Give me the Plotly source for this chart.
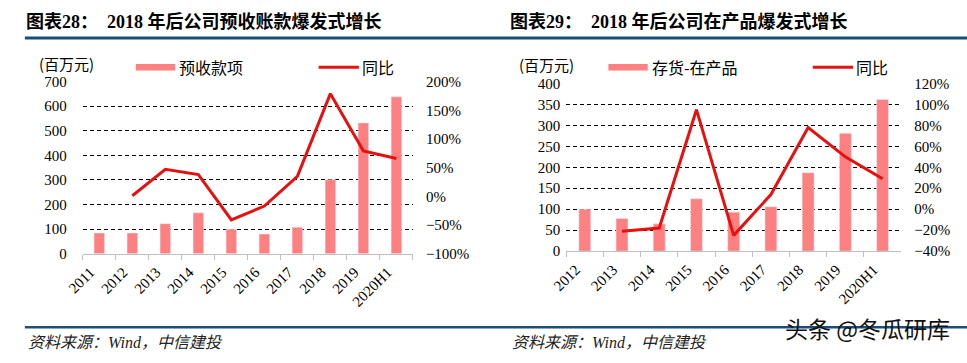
import plotly.graph_objects as go

# ---------------- data ----------------
years_a = ["2011", "2012", "2013", "2014", "2015", "2016", "2017", "2018", "2019", "2020H1"]
advance_receipts = [84, 84, 122, 166, 99, 80, 108, 301, 532, 638]          # 百万元
yoy_years_a = ["2012", "2013", "2014", "2015", "2016", "2017", "2018", "2019", "2020H1"]
advance_yoy = [1, 47, 38, -41, -17, 35, 179, 79, 66]                       # %

years_b = ["2012", "2013", "2014", "2015", "2016", "2017", "2018", "2019", "2020H1"]
wip_inventory = [100, 78, 65, 125, 93, 106, 187, 281, 362]                 # 百万元
yoy_years_b = ["2013", "2014", "2015", "2016", "2017", "2018", "2019", "2020H1"]
wip_yoy = [-21, -18, 95, -25, 14, 78, 50, 29]                              # %

title_a = "图表28：\u00a0\u00a02018 年后公司预收账款爆发式增长"
title_b = "图表29：\u00a0\u00a02018 年后公司在产品爆发式增长"
bar_name_a = "预收款项"
bar_name_b = "存货-在产品"
line_name = "同比"
unit_label = "(百万元)"
source_text = "资料来源：Wind，中信建投"
watermark = "头条 @冬瓜研库"

# ---------------- style ----------------
W, H = 967, 363
BAR = "#FF8080"
RED = "#E8100F"
NAVY = "#1B4E78"
AXIS_GRAY = "#BFBFBF"
SERIF = "Liberation Serif, Times New Roman, Noto Sans CJK SC"
CJK = "Noto Sans CJK SC, Noto Sans, sans-serif"


def X(px):
    return px / W


def Y(py):
    return 1 - py / H


fig = go.Figure()

fig.add_trace(go.Bar(x=years_a, y=advance_receipts, marker_color=BAR,
                     xaxis="x", yaxis="y", showlegend=False))
fig.add_trace(go.Scatter(x=yoy_years_a, y=advance_yoy, mode="lines",
                         line=dict(color=RED, width=3),
                         xaxis="x", yaxis="y2", showlegend=False))
fig.add_trace(go.Bar(x=years_b, y=wip_inventory, marker_color=BAR,
                     xaxis="x2", yaxis="y3", showlegend=False))
fig.add_trace(go.Scatter(x=yoy_years_b, y=wip_yoy, mode="lines",
                         line=dict(color=RED, width=3),
                         xaxis="x2", yaxis="y4", showlegend=False))

tickfont = dict(family=SERIF, size=15, color="black")
xtickfont = dict(family=SERIF, size=15, color="black")

xcommon = dict(type="category", showline=True, linecolor=AXIS_GRAY, linewidth=1,
               ticks="outside", tickson="boundaries", ticklen=5, tickcolor=AXIS_GRAY,
               tickangle=-45, tickfont=xtickfont, showgrid=False, zeroline=False,
               ticklabelshift=-9, ticklabelstandoff=3)
ygrid = dict(showgrid=True, gridcolor="black", gridwidth=1, griddash="4px,3px",
             zeroline=False, showline=False, ticks="", tickfont=tickfont)

fig.update_layout(
    width=W, height=H, autosize=False,
    margin=dict(l=0, r=0, t=0, b=0),
    paper_bgcolor="white", plot_bgcolor="white",
    bargap=0.68,
    xaxis=dict(domain=[X(67), X(403)], anchor="y",
               categoryorder="array", categoryarray=years_a, **xcommon),
    yaxis=dict(domain=[Y(257), Y(77)], anchor="x", range=[0, 700], dtick=100,
               ticklabelstandoff=15, **ygrid),
    yaxis2=dict(overlaying="y", anchor="x", side="right", range=[-100, 200], dtick=50,
                ticksuffix="%", showgrid=False, zeroline=False, ticks="",
                ticklabelstandoff=12, tickfont=tickfont),
    xaxis2=dict(domain=[X(559), X(900)], anchor="y3",
                categoryorder="array", categoryarray=years_b, **xcommon),
    yaxis3=dict(domain=[Y(254.3), Y(79)], anchor="x2", range=[0, 400], dtick=50,
                ticklabelstandoff=5, **ygrid),
    yaxis4=dict(overlaying="y3", anchor="x2", side="right", range=[-40, 120], dtick=20,
                ticksuffix="%", showgrid=False, zeroline=False, ticks="",
                ticklabelstandoff=12, tickfont=tickfont),
)

shapes = []
# header and footer rules
shapes.append(dict(type="line", xref="paper", yref="paper", x0=X(8), x1=X(967),
                   y0=Y(31.5), y1=Y(31.5), line=dict(color=NAVY, width=3)))
shapes.append(dict(type="line", xref="paper", yref="paper", x0=X(8), x1=X(967),
                   y0=Y(334), y1=Y(334), line=dict(color=NAVY, width=2.5)))
# legend swatches
for (bx0, bx1, lx0, lx1) in [(121, 161, 307, 348), (602, 642, 810, 851)]:
    shapes.append(dict(type="rect", xref="paper", yref="paper", x0=X(bx0), x1=X(bx1),
                       y0=Y(65.5), y1=Y(58.5), fillcolor=BAR, line=dict(width=0)))
    shapes.append(dict(type="line", xref="paper", yref="paper", x0=X(lx0), x1=X(lx1),
                       y0=Y(62), y1=Y(62), line=dict(color=RED, width=3)))
fig.update_layout(shapes=shapes)

ann = []


def text(x, y, s, size, family, color="black", anchor="left"):
    ann.append(dict(x=X(x), y=Y(y), xref="paper", yref="paper", text=s, showarrow=False,
                    xanchor=anchor, yanchor="middle", borderpad=0,
                    font=dict(size=size, family=family, color=color)))


text(8, 14, "<b>" + title_a + "</b>", 18, SERIF)
text(501, 14, "<b>" + title_b + "</b>", 18, SERIF)
text(21, 58, unit_label, 15, CJK)
text(164, 62, bar_name_a, 16, CJK)
text(350, 62, line_name, 16, CJK)
text(510, 59, unit_label, 15, CJK)
text(645, 62, bar_name_b, 16, CJK)
text(853, 62, line_name, 16, CJK)
text(10, 350, "<i>" + source_text + "</i>", 16, SERIF, "#222")
text(503, 350, "<i>" + source_text + "</i>", 16, SERIF, "#222")
text(781, 335, watermark, 23, CJK, "#111")
fig.update_layout(annotations=ann)

fig.write_html("out.html", config={"displayModeBar": False},
               post_script="document.body.style.margin='0';")
